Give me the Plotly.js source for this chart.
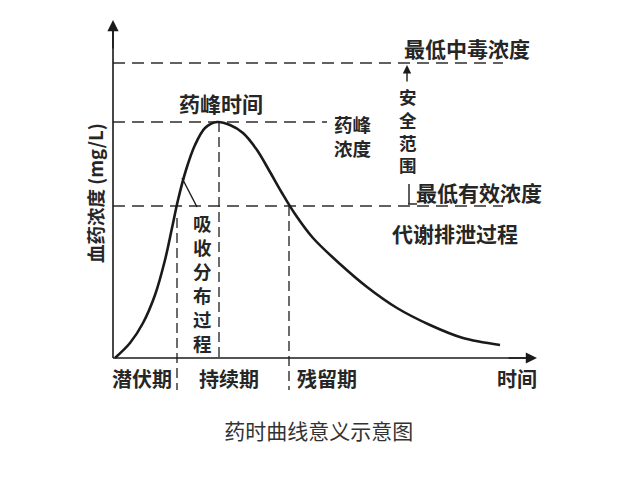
<!DOCTYPE html>
<html><head><meta charset="utf-8">
<script src="https://cdn.plot.ly/plotly-3.0.1.min.js"></script>
<style>html,body{margin:0;padding:0;background:#fff}</style>
</head><body><div id="chart" style="width:640px;height:480px"></div>
<script>
// Drug concentration–time curve (arbitrary units)
const timeValues = [0.2, 1.7, 3.0, 4.2, 5.2, 5.9, 6.5, 7.3, 8.2, 9.2, 10.4, 11.7, 13.0, 14.4, 15.7, 16.9, 18.2, 20.0, 22.7, 25.4, 28.4, 31.7, 35.0, 38.7];
const concValues = [0.0, 1.5, 3.5, 6.3, 9.8, 13.0, 15.8, 18.8, 21.3, 23.0, 23.6, 23.3, 22.5, 20.8, 18.6, 16.5, 14.4, 12.0, 9.4, 7.1, 5.0, 3.3, 2.0, 1.3];

// Reference levels and times
const toxicLevel = 29.5;      // 最低中毒浓度
const peakLevel = 23.6;       // 药峰浓度
const effectiveLevel = 15.2;  // 最低有效浓度
const peakTime = 10.6;        // 药峰时间
const onsetTime = 6.4;        // 潜伏期结束
const residualTime = 17.6;    // 残留期开始
const xMax = 42.4, yMax = 33.8;

// Phase labels under the time axis
const phaseLabels = ['潜伏期', '持续期', '残留期', '时间'];
const phaseCenters = [2.9, 11.6, 21.4, 40.4];

const ink = '#1a1a1a';
const textColor = '#262626';
const fnt = (s) => ({family: '"Noto Sans CJK SC", "Noto Sans", sans-serif', size: s, color: textColor, weight: 'bold'});
const dashStyle = '12px,7px';
const vDash = '10px,5px';
const dashLine = (d) => ({color: '#2e2e2e', width: 1.4, dash: d});

const traces = [
  {x: [0, 39.0], y: [toxicLevel, toxicLevel], mode: 'lines', line: dashLine(dashStyle), hoverinfo: 'skip'},
  {x: [0, 21.4], y: [peakLevel, peakLevel], mode: 'lines', line: dashLine(dashStyle), hoverinfo: 'skip'},
  {x: [0, 39.0], y: [effectiveLevel, effectiveLevel], mode: 'lines', line: dashLine(dashStyle), hoverinfo: 'skip'},
  {x: [peakTime, peakTime], y: [peakLevel, 0], mode: 'lines', line: dashLine(vDash), hoverinfo: 'skip'},
  {x: [onsetTime, onsetTime], y: [effectiveLevel - 1.2, -3.2], mode: 'lines', line: dashLine(vDash), hoverinfo: 'skip'},
  {x: [residualTime, residualTime], y: [effectiveLevel, -3.2], mode: 'lines', line: dashLine(vDash), hoverinfo: 'skip'},
  {x: timeValues, y: concValues, mode: 'lines', line: {color: ink, width: 2.6, shape: 'spline', smoothing: 0.9}, hoverinfo: 'skip'}
];

const annotations = [];
// axis arrows
annotations.push({x: 0, y: yMax, ax: 0, ay: yMax - 3, xref: 'x', yref: 'y', axref: 'x', ayref: 'y', text: '', showarrow: true, arrowhead: 2, arrowsize: 1.4, arrowwidth: 1.6, arrowcolor: ink});
annotations.push({x: xMax, y: 0, ax: xMax - 3, ay: 0, xref: 'x', yref: 'y', axref: 'x', ayref: 'y', text: '', showarrow: true, arrowhead: 2, arrowsize: 1.4, arrowwidth: 1.6, arrowcolor: ink});
// safety range arrow (up to toxic level)
annotations.push({x: 29.4, y: toxicLevel - 0.2, ax: 29.4, ay: 27.5, xref: 'x', yref: 'y', axref: 'x', ayref: 'y', text: '', showarrow: true, arrowhead: 2, arrowsize: 1.2, arrowwidth: 1.4, arrowcolor: ink});

const labels = [
  ['最低中毒浓度', 35.4, 31.0, 21],
  ['药峰时间', 10.8, 25.5, 21],
  ['药峰<br>浓度', 24.0, 22.25, 18.5],
  ['安<br>全<br>范<br>围', 29.5, 22.75, 17.5],
  ['最低有效浓度', 36.6, 16.6, 21],
  ['代谢排泄过程', 34.2, 12.5, 21],
  ['吸<br>收<br>分<br>布<br>过<br>程', 8.9, 7.5, 18.5]
];
labels.forEach(([t, x, y, s]) => annotations.push({x, y, xref: 'x', yref: 'y', text: t, showarrow: false, font: fnt(s), xanchor: 'center', yanchor: 'middle'}));
phaseLabels.forEach((t, i) => annotations.push({x: phaseCenters[i], y: -2.0, xref: 'x', yref: 'y', text: t, showarrow: false, font: fnt(20), xanchor: 'center', yanchor: 'middle'}));
// y-axis title
annotations.push({x: -1.8, y: 16.5, xref: 'x', yref: 'y', text: '血药浓度 (mg/L)', textangle: -90, showarrow: false, font: fnt(18.5), xanchor: 'center', yanchor: 'middle'});

const shapes = [
  {type: 'line', xref: 'x', yref: 'y', x0: 0, y0: 0, x1: 0, y1: yMax - 1, line: {color: ink, width: 1.6}},
  {type: 'line', xref: 'x', yref: 'y', x0: 0, y0: 0, x1: xMax - 1, y1: 0, line: {color: ink, width: 1.6}},
  // pointer from 吸收分布过程 to the curve
  {type: 'line', xref: 'x', yref: 'y', x0: 6.9, y0: 18.0, x1: 8.4, y1: 15.1, line: {color: ink, width: 1.4}},
  // lower bracket of safety range
  {type: 'line', xref: 'x', yref: 'y', x0: 29.6, y0: 17.4, x1: 29.6, y1: 15.4, line: {color: ink, width: 1.4}},
  {type: 'line', xref: 'x', yref: 'y', x0: 29.5, y0: 15.4, x1: 30.4, y1: 15.4, line: {color: ink, width: 1.4}}
];

const layout = {
  width: 640, height: 480,
  margin: {l: 93, r: 87, t: 20, b: 82},
  paper_bgcolor: '#fff', plot_bgcolor: '#fff',
  showlegend: false,
  xaxis: {range: [-2, 44], visible: false, fixedrange: true},
  yaxis: {range: [-4, yMax], visible: false, fixedrange: true},
  title: {text: '药时曲线意义示意图', x: 0.498, xanchor: 'center', y: 0.1, yanchor: 'middle', yref: 'container',
          font: {family: '"Noto Sans CJK SC", sans-serif', size: 21, color: '#333'}},
  shapes, annotations
};
Plotly.newPlot('chart', traces, layout, {displayModeBar: false, staticPlot: true});
</script></body></html>
